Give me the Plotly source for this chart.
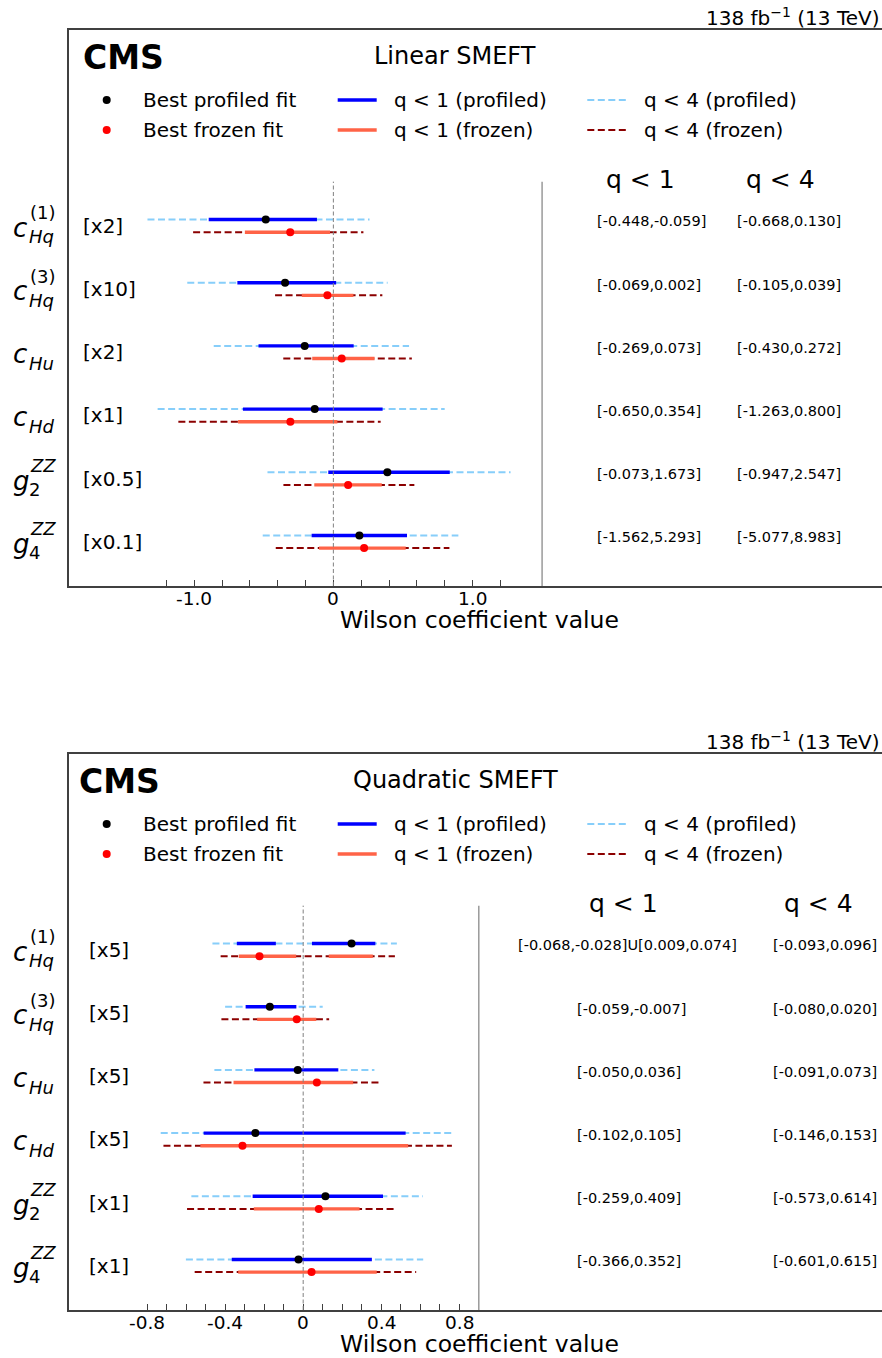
import plotly.graph_objects as go

W, H = 882, 1358
FONT = "DejaVu Sans"

# ---------------- Linear SMEFT (top panel) ----------------
lin_sym = ["c", "c", "c", "c", "g", "g"]
lin_sup = ["(1)", "(3)", "", "", "ZZ", "ZZ"]
lin_sub = ["Hq", "Hq", "Hu", "Hd", "2", "4"]
lin_scale = [2, 10, 2, 1, 0.5, 0.1]
lin_prof_q1 = [[(-0.448, -0.059)], [(-0.069, 0.002)], [(-0.269, 0.073)],
               [(-0.650, 0.354)], [(-0.073, 1.673)], [(-1.562, 5.293)]]
lin_prof_q4 = [[(-0.668, 0.130)], [(-0.105, 0.039)], [(-0.430, 0.272)],
               [(-1.263, 0.800)], [(-0.947, 2.547)], [(-5.077, 8.983)]]
lin_prof_best = [-0.243, -0.0347, -0.103, -0.134, 0.776, 1.87]
lin_froz_q1 = [[(-0.318, -0.012)], [(-0.0227, 0.0144)], [(-0.076, 0.148)],
               [(-0.685, 0.029)], [(-0.274, 0.696)], [(-1.03, 5.20)]]
lin_froz_q4 = [[(-0.504, 0.108)], [(-0.0419, 0.0352)], [(-0.180, 0.282)],
               [(-1.114, 0.340)], [(-0.718, 1.164)], [(-4.14, 8.34)]]
lin_froz_best = [-0.155, -0.0043, 0.030, -0.309, 0.212, 2.21]
lin_tickvals = [-1.2, -1.0, -0.8, -0.6, -0.4, -0.2, 0, 0.2, 0.4, 0.6, 0.8, 1.0, 1.2]
lin_ticktext = ["", "-1.0", "", "", "", "", "0", "", "", "", "", "1.0", ""]

# ---------------- Quadratic SMEFT (bottom panel) ----------------
quad_sym = ["c", "c", "c", "c", "g", "g"]
quad_sup = ["(1)", "(3)", "", "", "ZZ", "ZZ"]
quad_sub = ["Hq", "Hq", "Hu", "Hd", "2", "4"]
quad_scale = [5, 5, 5, 5, 1, 1]
quad_prof_q1 = [[(-0.068, -0.028), (0.009, 0.074)], [(-0.059, -0.007)], [(-0.050, 0.036)],
                [(-0.102, 0.105)], [(-0.259, 0.409)], [(-0.366, 0.352)]]
quad_prof_q4 = [[(-0.093, 0.096)], [(-0.080, 0.020)], [(-0.091, 0.073)],
                [(-0.146, 0.153)], [(-0.573, 0.614)], [(-0.601, 0.615)]]
quad_prof_best = [0.0496, -0.0342, -0.0056, -0.049, 0.114, -0.024]
quad_froz_q1 = [[(-0.066, -0.0072), (0.0262, 0.0714)], [(-0.0472, 0.0134)], [(-0.0714, 0.0512)],
                [(-0.1054, 0.1076)], [(-0.253, 0.289)], [(-0.333, 0.377)]]
quad_froz_q4 = [[(-0.0846, 0.094)], [(-0.0838, 0.0266)], [(-0.1022, 0.078)],
                [(-0.1432, 0.1524)], [(-0.595, 0.467)], [(-0.556, 0.579)]]
quad_froz_best = [-0.0448, -0.0066, 0.014, -0.0622, 0.080, 0.043]
quad_tickvals = [-0.8, -0.7, -0.6, -0.5, -0.4, -0.3, -0.2, -0.1, 0, 0.1, 0.2, 0.3, 0.4, 0.5, 0.6, 0.7, 0.8]
quad_ticktext = ["-0.8", "", "", "", "-0.4", "", "", "", "0", "", "", "", "0.4", "", "", "", "0.8"]

legend_labels = ["Best profiled fit", "Best frozen fit", "q &lt; 1 (profiled)",
                 "q &lt; 1 (frozen)", "q &lt; 4 (profiled)", "q &lt; 4 (frozen)"]
lumi_text = "138 fb<sup>−1</sup> (13 TeV)"
xtitle = "Wilson coefficient value"

# ---------------- styles ----------------
C_BLUE, C_TOMATO, C_LB, C_DR = "#0000FF", "#FF6347", "#87CEFA", "#8B0000"
FRAME = "#404040"
YR = [-5.70, 3.10]


def px(x):
    return x / W


def pxl(x):
    # left-anchored annotation: compensate the box padding
    return (x - 2) / W


def py(y):
    return 1 - y / H


def fmt_iv(ivs):
    return "U".join(f"[{lo:.3f},{hi:.3f}]" for lo, hi in ivs)


def seg_xy(rows, scales, yoff):
    xs, ys = [], []
    for i, (ivs, s) in enumerate(zip(rows, scales)):
        for lo, hi in ivs:
            xs += [lo * s, hi * s, None]
            ys += [-i + yoff, -i + yoff, None]
    return xs, ys


panels = [
    dict(title="Linear SMEFT", ax="", top=30, bottom=586, xr=[-1.9, 3.943], sep=1.5,
         tv=lin_tickvals, tt=lin_ticktext, sym=lin_sym, sup=lin_sup, sub=lin_sub, scale=lin_scale,
         pq1=lin_prof_q1, pq4=lin_prof_q4, pb=lin_prof_best,
         fq1=lin_froz_q1, fq4=lin_froz_q4, fb=lin_froz_best,
         col1=597, col1u=597, col2=737, h1=640.5, h2=780, scx=83, cms_x=83, dy=0),
    dict(title="Quadratic SMEFT", ax="2", top=754, bottom=1310, xr=[-1.2, 2.966], sep=0.9,
         tv=quad_tickvals, tt=quad_ticktext, sym=quad_sym, sup=quad_sup, sub=quad_sub, scale=quad_scale,
         pq1=quad_prof_q1, pq4=quad_prof_q4, pb=quad_prof_best,
         fq1=quad_froz_q1, fq4=quad_froz_q4, fb=quad_froz_best,
         col1=577, col1u=518, col2=773, h1=623, h2=818, scx=89, cms_x=79, dy=724),
]

fig = go.Figure()
shapes, annots = [], []
layout = {}

for p in panels:
    xa, ya = "x" + p["ax"], "y" + p["ax"]
    n = len(p["sym"])
    # dashed q<4 first, solid q<1 on top, then best fits
    for rows, yoff, col, width, dash in [
        (p["pq4"], 0.1, C_LB, 2.0, "7px,3.5px"),
        (p["fq4"], -0.1, C_DR, 2.0, "7px,3.5px"),
        (p["pq1"], 0.1, C_BLUE, 3.4, "solid"),
        (p["fq1"], -0.1, C_TOMATO, 3.4, "solid"),
    ]:
        xs, ys = seg_xy(rows, p["scale"], yoff)
        fig.add_trace(go.Scatter(x=xs, y=ys, mode="lines", xaxis=xa, yaxis=ya,
                                 line=dict(color=col, width=width, dash=dash),
                                 showlegend=False, hoverinfo="skip"))
    fig.add_trace(go.Scatter(x=[b * s for b, s in zip(p["pb"], p["scale"])],
                             y=[-i + 0.1 for i in range(n)], mode="markers",
                             xaxis=xa, yaxis=ya, marker=dict(color="black", size=8),
                             showlegend=False))
    fig.add_trace(go.Scatter(x=[b * s for b, s in zip(p["fb"], p["scale"])],
                             y=[-i - 0.1 for i in range(n)], mode="markers",
                             xaxis=xa, yaxis=ya, marker=dict(color="red", size=8),
                             showlegend=False))

    ydom = [py(p["bottom"]), py(p["top"])]
    layout["xaxis" + p["ax"]] = dict(
        domain=[px(69), 1], anchor=ya, range=p["xr"], showgrid=False, zeroline=False,
        showline=True, linecolor=FRAME, linewidth=1.6, mirror=True,
        ticks="inside", ticklen=6, tickwidth=1.2, tickcolor=FRAME,
        tickmode="array", tickvals=p["tv"], showticklabels=False)
    layout["yaxis" + p["ax"]] = dict(
        domain=ydom, anchor=xa, range=YR, showgrid=False, zeroline=False,
        showline=True, linecolor=FRAME, linewidth=1.6, showticklabels=False, ticks="")

    # tick labels placed at the axis' tick values
    for tv, tt in zip(p["tv"], p["tt"]):
        if tt:
            annots.append(dict(xref=xa, yref="paper", x=tv, y=py(p["bottom"] + 12.5), text=tt,
                               showarrow=False, xanchor="center", yanchor="middle",
                               font=dict(family=FONT, size=18.5, color="black")))

    # zero line and separator
    shapes.append(dict(type="line", xref=xa, yref=ya, x0=0, x1=0, y0=YR[0], y1=0.70,
                       line=dict(color="#808080", width=1, dash="4px,2.5px")))
    shapes.append(dict(type="line", xref=xa, yref=ya, x0=p["sep"], x1=p["sep"], y0=YR[0], y1=0.70,
                       line=dict(color="#8a8a8a", width=1.3)))

    # row labels
    for i in range(n):
        annots.append(dict(xref="paper", yref=ya, x=pxl(13), y=-i, yshift=-2,
                           text=f"<i>{p['sym'][i]}</i>", showarrow=False, xanchor="left",
                           yanchor="middle", font=dict(family=FONT, size=26, color="black")))
        sub = p["sub"][i]
        subtxt = sub if sub.isdigit() else f"<i>{sub}</i>"
        annots.append(dict(xref="paper", yref=ya, x=pxl(29), y=-i, yshift=-11,
                           text=subtxt, showarrow=False, xanchor="left",
                           yanchor="middle", font=dict(family=FONT, size=18, color="black")))
        if p["sup"][i]:
            sup = p["sup"][i]
            suptxt = sup if sup.startswith("(") else f"<i>{sup}</i>"
            annots.append(dict(xref="paper", yref=ya, x=pxl(30), y=-i, yshift=13,
                               text=suptxt, showarrow=False, xanchor="left",
                               yanchor="middle", font=dict(family=FONT, size=18, color="black")))
        s = p["scale"][i]
        annots.append(dict(xref="paper", yref=ya, x=pxl(p["scx"]), y=-i, yshift=0,
                           text=f"[x{s:g}]", showarrow=False, xanchor="left",
                           yanchor="middle", font=dict(family=FONT, size=20, color="black")))
        # interval text columns
        t1 = fmt_iv(p["pq1"][i])
        annots.append(dict(xref="paper", yref=ya, x=pxl(p["col1u"] if "U" in t1 else p["col1"]),
                           y=-i, yshift=4.5, text=t1, showarrow=False, xanchor="left",
                           yanchor="middle", font=dict(family=FONT, size=14.5, color="black")))
        annots.append(dict(xref="paper", yref=ya, x=pxl(p["col2"]), y=-i, yshift=4.5,
                           text=fmt_iv(p["pq4"][i]), showarrow=False, xanchor="left",
                           yanchor="middle", font=dict(family=FONT, size=14.5, color="black")))
    # column headers
    for hx, ht in [(p["h1"], "q &lt; 1"), (p["h2"], "q &lt; 4")]:
        annots.append(dict(xref="paper", yref=ya, x=px(hx), y=0, yshift=46.5, text=ht,
                           showarrow=False, xanchor="center", yanchor="middle",
                           font=dict(family=FONT, size=25, color="black")))

    dy = p["dy"]
    # CMS, title, lumi
    annots.append(dict(xref="paper", yref="paper", x=pxl(p["cms_x"]), y=py(57.5 + dy), text="<b>CMS</b>",
                       showarrow=False, xanchor="left", yanchor="middle",
                       font=dict(family=FONT, size=33, color="black")))
    annots.append(dict(xref="paper", yref="paper", x=px(455), y=py(56 + dy), text=p["title"],
                       showarrow=False, xanchor="center", yanchor="middle",
                       font=dict(family=FONT, size=24, color="black")))
    annots.append(dict(xref="paper", yref="paper", x=px(882), y=py(17 + dy), text=lumi_text,
                       showarrow=False, xanchor="right", yanchor="middle",
                       font=dict(family=FONT, size=20, color="black")))
    # x-axis title
    annots.append(dict(xref="paper", yref="paper", x=px(479), y=py(p["bottom"] + 34), text=xtitle,
                       showarrow=False, xanchor="center", yanchor="middle",
                       font=dict(family=FONT, size=23.5, color="black")))

    # legend (manual, three columns)
    r1, r2 = 100 + dy, 130 + dy
    for cy, col in [(r1, "black"), (r2, "red")]:
        shapes.append(dict(type="circle", xref="paper", yref="paper",
                           x0=px(106.7 - 4), x1=px(106.7 + 4), y0=py(cy + 4), y1=py(cy - 4),
                           fillcolor=col, line=dict(width=0)))
    for cy, col in [(r1, C_BLUE), (r2, C_TOMATO)]:
        shapes.append(dict(type="line", xref="paper", yref="paper", x0=px(337.7), x1=px(376.7),
                           y0=py(cy), y1=py(cy), line=dict(color=col, width=3.4)))
    for cy, col in [(r1, C_LB), (r2, C_DR)]:
        shapes.append(dict(type="line", xref="paper", yref="paper", x0=px(587.3), x1=px(626.7),
                           y0=py(cy), y1=py(cy), line=dict(color=col, width=2, dash="7px,3.5px")))
    for (lx, ly), lab in zip([(143, r1), (143, r2), (394, r1), (394, r2), (644, r1), (644, r2)],
                             legend_labels):
        annots.append(dict(xref="paper", yref="paper", x=pxl(lx), y=py(ly), text=lab,
                           showarrow=False, xanchor="left", yanchor="middle",
                           font=dict(family=FONT, size=20, color="black")))

fig.update_layout(width=W, height=H, margin=dict(l=0, r=0, t=0, b=0),
                  paper_bgcolor="white", plot_bgcolor="white",
                  shapes=shapes, annotations=annots, showlegend=False,
                  font=dict(family=FONT, color="black"), **layout)

fig.write_html("out.html", config={"displayModeBar": False},
               post_script="document.body.style.margin='0';document.body.style.padding='0';")
